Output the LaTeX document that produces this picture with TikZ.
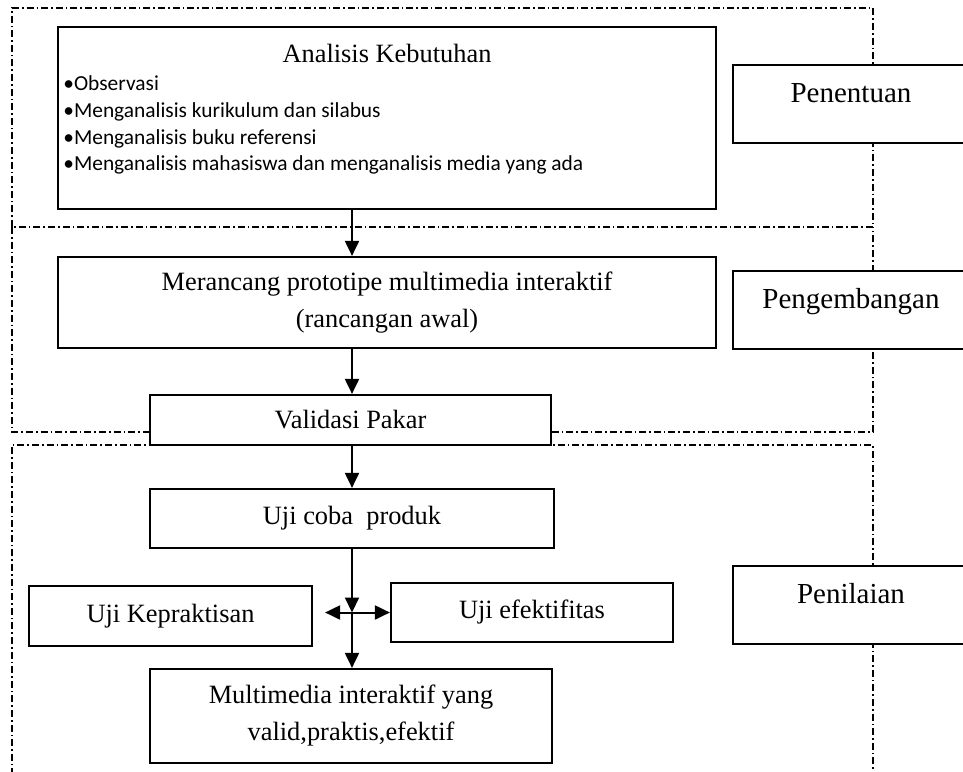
\documentclass[tikz,border=0pt]{standalone}
\usepackage{fontspec}
\setmainfont{Liberation Serif}
\newfontfamily\butirfont{Carlito}
\usetikzlibrary{calc}
\usetikzlibrary{arrows.meta}

\tikzset{
  kotak/.style = {draw, line width=1.1pt, fill=white, inner sep=0pt, align=center,
                  font=\fontsize{13.2}{18.5}\selectfont},
  tahap/.style = {kotak, anchor=north, minimum width=118pt, text height=18.5pt, text depth=20.5pt,
                  font=\fontsize{14.5}{17}\selectfont},
  judul/.style = {anchor=base, inner sep=0pt, font=\fontsize{13.2}{16}\selectfont},
  butir/.style = {anchor=base west, inner sep=0pt, font=\butirfont\fontsize{10.7}{13}\selectfont},
  batas/.style = {line width=0.6pt, dash pattern=on 3.5pt off 1.5pt on 0.8pt off 1.5pt},
  ujung/.tip   = {Triangle[length=7.5pt,width=7pt]},
  panah/.style = {line width=1pt, -ujung},
}

\begin{document}
\begin{tikzpicture}[x=0.5pt, y=-0.5pt]
  \useasboundingbox (0,0) rectangle (963,771);
  % Batas tiap tahap
  \draw[batas] ( 12,227) -- ( 12,  8) -- (873,  8) -- (873,227) -- cycle;
  \draw[batas] ( 12,227) -- ( 12,432) -- (873,432) -- (873,227);
  \draw[batas] ( 12,790) -- ( 12,445) -- (873,445) -- (873,790);
  % Tahap penentuan
  \node[kotak, minimum width=329pt, minimum height=91pt]   (analisis)      at (387,118.0) {};
  \node[judul]                                             (analisisjudul) at (387, 62.0) {Analisis Kebutuhan};
  \node[butir]                                             (butir1)        at ( 63, 90.7) {\textbullet Observasi};
  \node[butir]                                             (butir2)        at ( 63,117.4) {\textbullet Menganalisis kurikulum dan silabus};
  \node[butir]                                             (butir3)        at ( 63,144.1) {\textbullet Menganalisis buku referensi};
  \node[butir]                                             (butir4)        at ( 63,170.8) {\textbullet Menganalisis mahasiswa dan menganalisis media yang ada};
  \node[tahap]                                             (penentuan)     at (851, 64.0) {Penentuan};
  % Tahap pengembangan
  \node[kotak, minimum width=329pt, minimum height=45.5pt] (merancang)     at (387,302.5) {Merancang prototipe multimedia interaktif\\(rancangan awal)};
  \node[kotak, minimum width=200.5pt, minimum height=25pt] (validasi)      at (350.5,420) {Validasi Pakar};
  \node[tahap]                                             (pengembangan)  at (851,270.0) {Pengembangan};
  % Tahap penilaian
  \node[kotak, minimum width=202pt, minimum height=29.5pt] (ujicoba)       at (352,518.5) {Uji coba\ \ produk};
  \node[kotak, minimum width=141.5pt, minimum height=30pt] (kepraktisan)   at (170.5,616) {Uji Kepraktisan};
  \node[kotak, minimum width=141pt, minimum height=29.5pt] (efektifitas)   at (532,612.5) {Uji efektifitas};
  \node[kotak, minimum width=201pt, minimum height=47pt]   (multimedia)    at (351,716.0) {Multimedia interaktif yang\\valid,praktis,efektif};
  \node[tahap]                                             (penilaian)     at (851,565.0) {Penilaian};
  % Alur
  \coordinate (simpang) at (ujicoba.south |- efektifitas.west);
  \coordinate (kiri)    at ($(simpang -| kepraktisan.east)+(12,0)$);
  \draw[panah] (analisis.south -| ujicoba) -- (merancang.north -| ujicoba);
  \draw[panah] (merancang.south -| ujicoba) -- (validasi.north -| ujicoba);
  \draw[panah] (validasi.south -| ujicoba) -- (ujicoba.north);
  \draw[panah] (ujicoba.south) -- (simpang);
  \draw[panah] (simpang) -- (multimedia.north -| simpang);
  \draw[panah, ujung-ujung] (kiri) -- (efektifitas.west);
\end{tikzpicture}
\end{document}
